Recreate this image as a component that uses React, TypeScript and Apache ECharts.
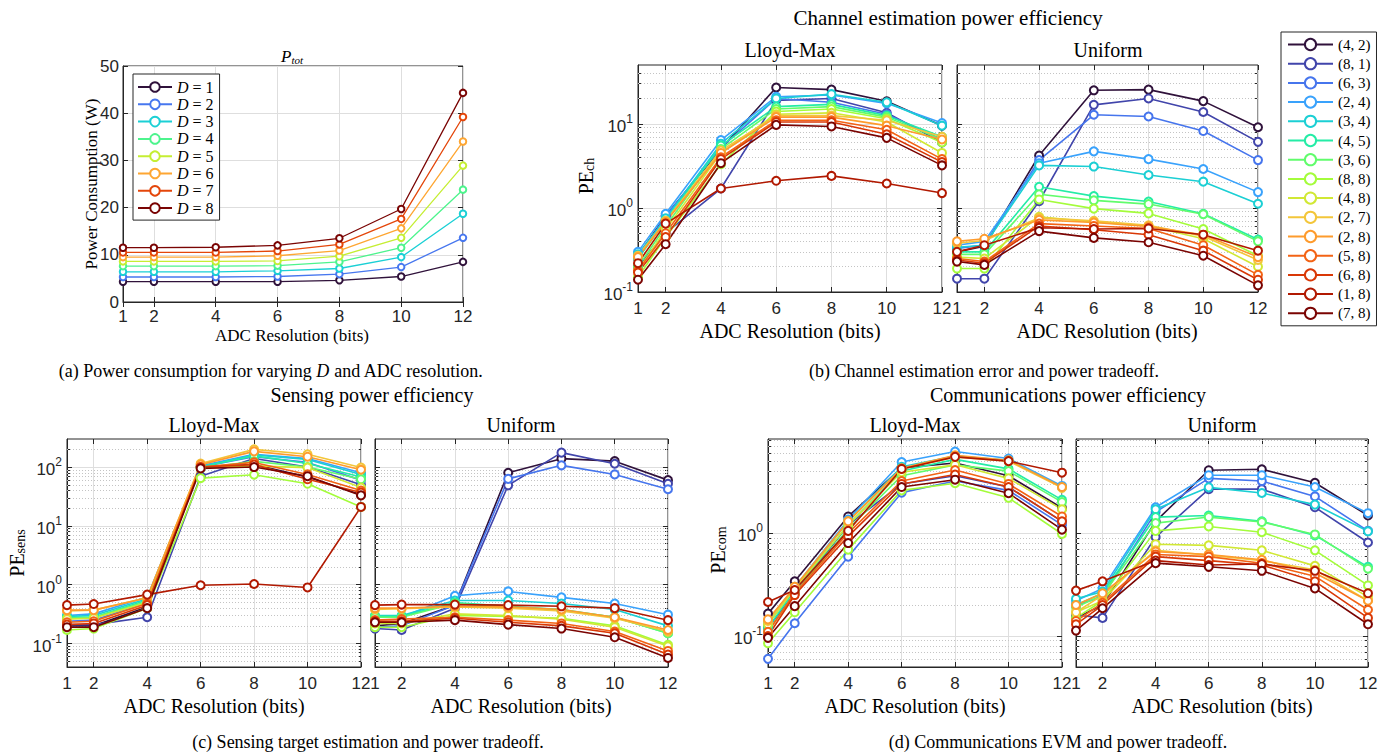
import React, { useEffect, useRef } from 'react';
import * as echarts from 'echarts';

// ---------------- data ----------------
const bits = [1, 2, 4, 6, 8, 10, 12];

const dNames = ['D = 1', 'D = 2', 'D = 3', 'D = 4', 'D = 5', 'D = 6', 'D = 7', 'D = 8'];
const dColors = ['#30123B', '#4777EF', '#1BD0D5', '#4DF48D', '#C5EE33', '#FEA632', '#E4460A', '#7A0403'];
const powerW = [
  [4.3, 4.3, 4.3, 4.3, 4.6, 5.4, 8.5],
  [5.3, 5.3, 5.3, 5.4, 5.9, 7.4, 13.6],
  [6.4, 6.4, 6.4, 6.6, 7.1, 9.5, 18.7],
  [7.6, 7.6, 7.6, 7.7, 8.5, 11.5, 23.8],
  [8.6, 8.6, 8.6, 8.7, 9.7, 13.6, 28.9],
  [9.5, 9.5, 9.5, 9.8, 10.9, 15.6, 34.0],
  [10.5, 10.5, 10.5, 10.8, 12.2, 17.6, 39.2],
  [11.5, 11.5, 11.6, 12.0, 13.5, 19.7, 44.3],
];

const pairNames = ['(4, 2)', '(8, 1)', '(6, 3)', '(2, 4)', '(3, 4)', '(4, 5)', '(3, 6)', '(8, 8)', '(4, 8)', '(2, 7)', '(2, 8)', '(5, 8)', '(6, 8)', '(1, 8)', '(7, 8)'];
const pairColors = ['#30123B', '#4145AB', '#4675ED', '#39A2FC', '#1BCFD4', '#24ECA6', '#61FC6C', '#A4FC3B', '#D1E834', '#F3C63A', '#FE9B2D', '#F36315', '#D93806', '#B11901', '#7A0402'];

// Channel estimation power efficiency
const chLloyd = [
  [0.27, 0.8, 5.0, 27, 25.5, 18.5, 9.5],
  [0.2, 0.5, 1.7, 19, 20, 13.5, 6],
  [0.25, 0.8, 5.2, 20, 18, 13, 6.5],
  [0.3, 0.85, 6.4, 21, 22, 17.5, 10.2],
  [0.28, 0.75, 5.8, 20, 22.5, 18, 9.5],
  [0.25, 0.7, 5.5, 16, 17, 12.5, 7],
  [0.2, 0.6, 5.0, 15, 16, 12, 6.5],
  [0.15, 0.45, 3.3, 14, 15, 11.5, 6],
  [0.18, 0.55, 4.5, 13, 13.5, 10.5, 4.5],
  [0.27, 0.7, 4.8, 12.5, 12.5, 11, 7],
  [0.26, 0.68, 4.5, 12, 12, 9.5, 6.5],
  [0.18, 0.5, 4.0, 11, 11, 8.5, 3.8],
  [0.17, 0.45, 3.8, 10.5, 10.5, 7.5, 3.5],
  [0.22, 0.65, 1.7, 2.1, 2.4, 1.95, 1.5],
  [0.14, 0.37, 3.4, 9.7, 9.3, 6.8, 3.2],
];
const chUniform = [
  [0.3, 0.35, 4.2, 25, 25.5, 18.6, 9.1],
  [0.144, 0.144, 1.2, 16.8, 20, 13.8, 6.1],
  [0.33, 0.36, 3.7, 12.8, 12.2, 8.2, 3.7],
  [0.36, 0.4, 3.4, 4.7, 3.8, 2.9, 1.54],
  [0.34, 0.36, 3.2, 3.1, 2.46, 2.05, 1.12],
  [0.3, 0.3, 1.78, 1.38, 1.19, 0.85, 0.42],
  [0.28, 0.28, 1.45, 1.23, 1.11, 0.84, 0.4],
  [0.19, 0.19, 1.26, 0.98, 0.86, 0.56, 0.27],
  [0.26, 0.25, 0.785, 0.68, 0.61, 0.43, 0.2],
  [0.38, 0.41, 0.76, 0.7, 0.62, 0.46, 0.24],
  [0.4, 0.43, 0.72, 0.67, 0.6, 0.48, 0.26],
  [0.25, 0.23, 0.65, 0.61, 0.57, 0.36, 0.16],
  [0.24, 0.22, 0.61, 0.55, 0.48, 0.31, 0.14],
  [0.3, 0.36, 0.58, 0.56, 0.57, 0.48, 0.31],
  [0.23, 0.21, 0.53, 0.44, 0.39, 0.27, 0.12],
];

// Sensing power efficiency
const sensLloyd = [
  [0.2, 0.2, 0.42, 100, 110, 68, 34],
  [0.21, 0.21, 0.28, 70, 140, 100, 50],
  [0.24, 0.25, 0.5, 100, 150, 120, 60],
  [0.3, 0.32, 0.62, 105, 165, 140, 80],
  [0.29, 0.3, 0.58, 100, 160, 135, 75],
  [0.28, 0.28, 0.55, 100, 155, 115, 68],
  [0.27, 0.28, 0.52, 95, 125, 100, 62],
  [0.17, 0.18, 0.4, 65, 74, 52, 21],
  [0.26, 0.27, 0.5, 100, 105, 98, 45],
  [0.36, 0.37, 0.6, 115, 200, 165, 98],
  [0.37, 0.37, 0.6, 110, 185, 150, 90],
  [0.23, 0.24, 0.48, 100, 120, 75, 40],
  [0.21, 0.22, 0.45, 100, 110, 62, 37],
  [0.45, 0.47, 0.68, 0.98, 1.03, 0.9, 21],
  [0.19, 0.19, 0.4, 95, 100, 70, 33],
];
const sensUniform = [
  [0.2, 0.22, 0.45, 80, 139, 126, 60],
  [0.18, 0.17, 0.4, 49, 176, 114, 52],
  [0.19, 0.2, 0.45, 63, 107, 75, 42],
  [0.28, 0.28, 0.65, 0.77, 0.61, 0.48, 0.31],
  [0.3, 0.3, 0.54, 0.54, 0.48, 0.38, 0.2],
  [0.29, 0.29, 0.5, 0.43, 0.38, 0.28, 0.15],
  [0.28, 0.28, 0.48, 0.42, 0.37, 0.28, 0.15],
  [0.19, 0.19, 0.3, 0.29, 0.27, 0.2, 0.095],
  [0.22, 0.22, 0.32, 0.3, 0.26, 0.19, 0.09],
  [0.38, 0.39, 0.42, 0.4, 0.36, 0.27, 0.16],
  [0.4, 0.4, 0.43, 0.42, 0.38, 0.28, 0.17],
  [0.25, 0.26, 0.28, 0.25, 0.22, 0.16, 0.075],
  [0.24, 0.24, 0.27, 0.23, 0.2, 0.15, 0.065],
  [0.45, 0.46, 0.46, 0.45, 0.43, 0.4, 0.25],
  [0.23, 0.23, 0.25, 0.21, 0.18, 0.128, 0.057],
];

// Communications power efficiency
const comLloyd = [
  [0.165, 0.34, 1.45, 4.3, 4.8, 3.6, 1.75],
  [0.12, 0.26, 1.2, 3.0, 3.6, 2.8, 1.3],
  [0.06, 0.133, 0.59, 2.47, 3.2, 2.6, 1.2],
  [0.14, 0.3, 1.35, 4.9, 6.2, 5.3, 2.87],
  [0.13, 0.29, 1.3, 4.4, 5.6, 5.1, 2.8],
  [0.12, 0.28, 1.2, 4.0, 5.2, 4.2, 2.1],
  [0.11, 0.26, 1.1, 3.6, 4.6, 4.0, 2.0],
  [0.085, 0.17, 0.69, 2.6, 3.05, 2.2, 0.98],
  [0.13, 0.29, 1.2, 3.9, 4.6, 3.4, 1.7],
  [0.14, 0.3, 1.3, 4.2, 5.5, 5.0, 2.75],
  [0.145, 0.3, 1.3, 4.25, 5.7, 5.1, 2.8],
  [0.11, 0.26, 1.0, 3.2, 4.1, 3.0, 1.45],
  [0.1, 0.25, 0.93, 3.0, 3.7, 2.8, 1.3],
  [0.214, 0.28, 1.05, 4.2, 5.5, 5.0, 3.86],
  [0.096, 0.195, 0.8, 2.8, 3.3, 2.44, 1.08],
];
const comUniform = [
  [0.15, 0.2, 1.3, 4.08, 4.17, 3.08, 1.48],
  [0.16, 0.15, 0.915, 2.67, 2.67, 1.78, 0.81],
  [0.2, 0.24, 1.6, 3.4, 3.2, 2.27, 1.05],
  [0.22, 0.29, 1.78, 3.65, 3.65, 2.8, 1.56],
  [0.23, 0.27, 1.7, 2.78, 2.45, 1.89, 1.04],
  [0.2, 0.26, 1.43, 1.48, 1.3, 0.95, 0.47],
  [0.19, 0.25, 1.25, 1.43, 1.28, 0.97, 0.45],
  [0.15, 0.22, 1.05, 1.16, 1.02, 0.68, 0.31],
  [0.17, 0.22, 0.78, 0.76, 0.68, 0.48, 0.24],
  [0.17, 0.25, 0.68, 0.61, 0.54, 0.44, 0.22],
  [0.2, 0.26, 0.66, 0.62, 0.55, 0.41, 0.22],
  [0.14, 0.21, 0.62, 0.59, 0.51, 0.38, 0.18],
  [0.13, 0.2, 0.59, 0.54, 0.49, 0.34, 0.15],
  [0.276, 0.34, 0.54, 0.49, 0.5, 0.43, 0.26],
  [0.113, 0.186, 0.51, 0.47, 0.43, 0.29, 0.13],
];

// log axis ranges, decade ticks and minor grid values
const chRange = [0.1, 50];
const sensRange = [0.04, 300];
const comRange = [0.05, 8.2];
const chDecades = [0.1, 1, 10];
const sensDecades = [0.1, 1, 10, 100];
const comDecades = [0.1, 1];
const chMinor = [0.2, 0.3, 0.4, 0.5, 0.6, 0.7, 0.8, 0.9, 2, 3, 4, 5, 6, 7, 8, 9, 20, 30, 40];
const sensMinor = [0.05, 0.06, 0.07, 0.08, 0.09, 0.2, 0.3, 0.4, 0.5, 0.6, 0.7, 0.8, 0.9, 2, 3, 4, 5, 6, 7, 8, 9, 20, 30, 40, 50, 60, 70, 80, 90, 200];
const comMinor = [0.06, 0.07, 0.08, 0.09, 0.2, 0.3, 0.4, 0.5, 0.6, 0.7, 0.8, 0.9, 2, 3, 4, 5, 6, 7, 8];

// ---------------- styling ----------------
const SERIF = "'Liberation Serif', 'Times New Roman', serif";
const SANS = "'Liberation Sans', Arial, Helvetica, sans-serif";
const AX = '#262626';
const GRID = '#dedede';
const MINOR = '#c4c4c4';

type Box = { left: number; top: number; width: number; height: number };
const boxes: Box[] = [
  { left: 123, top: 66, width: 340, height: 236 }, // a
  { left: 638, top: 65, width: 304, height: 227 }, // b LM
  { left: 957, top: 65, width: 301, height: 227 }, // b U
  { left: 67, top: 439, width: 294, height: 228 }, // c LM
  { left: 375, top: 439, width: 293, height: 228 }, // c U
  { left: 768, top: 439, width: 294, height: 228 }, // d LM
  { left: 1076, top: 439, width: 292, height: 228 }, // d U
];

function buildOption() {
  const grid = boxes.map((b) => ({
    left: b.left, top: b.top, width: b.width, height: b.height,
    show: true, borderColor: AX, borderWidth: 1, backgroundColor: 'transparent',
  }));

  const tickStyle = { show: true, inside: true, length: 5, lineStyle: { color: AX, width: 1 } };

  const xAxis: any[] = boxes.map((_, i) => ({
    type: 'value', gridIndex: i, min: 1, max: 12, position: 'bottom',
    axisLine: { show: true, lineStyle: { color: AX, width: 1 } },
    axisTick: { ...tickStyle, customValues: bits },
    axisLabel: {
      show: true, customValues: bits, color: AX, fontFamily: SANS,
      fontSize: 17, margin: i === 0 ? 6 : 8,
    },
    splitLine: { show: true, lineStyle: { color: GRID, width: 1 } },
  }));
  // mirrored ticks on top edge (box on)
  boxes.forEach((_, i) => xAxis.push({
    type: 'value', gridIndex: i, min: 1, max: 12, position: 'top',
    axisLine: { show: false },
    axisTick: { ...tickStyle, customValues: bits },
    axisLabel: { show: false },
    splitLine: { show: false },
  }));

  const logLabel = (v: number) => {
    const e = Math.round(Math.log10(v));
    return `{b|10}{s|${e}}`;
  };
  const logRich = {
    b: { fontSize: 17, fontFamily: SANS, color: AX, lineHeight: 22, verticalAlign: 'bottom' },
    s: { fontSize: 12, fontFamily: SANS, color: AX, lineHeight: 12, verticalAlign: 'top' },
  };
  const logAxis = (gi: number, range: number[], ticks: number[], labels: boolean, pos: string, main: boolean, len = 5) => ({
    type: 'log', gridIndex: gi, min: range[0], max: range[1], logBase: 10, position: pos,
    axisLine: { show: main, lineStyle: { color: AX, width: 1 } },
    axisTick: { ...tickStyle, length: len, customValues: ticks },
    axisLabel: {
      show: labels, customValues: ticks, formatter: logLabel, rich: logRich, margin: 5,
    },
    splitLine: { show: main, lineStyle: { color: GRID, width: 1 } },
  });

  const linY = (pos: string) => ({
    type: 'value', gridIndex: 0, min: 0, max: 50, interval: 10, position: pos,
    axisLine: { show: pos === 'left', lineStyle: { color: AX, width: 1 } },
    axisTick: tickStyle,
    axisLabel: { show: pos === 'left', color: AX, fontFamily: SANS, fontSize: 17, margin: 4 },
    splitLine: { show: pos === 'left', lineStyle: { color: GRID, width: 1 } },
  });

  const logSpecs: [number, number[], number[], number[], boolean][] = [
    [1, chRange, chDecades, chMinor, true],
    [2, chRange, chDecades, chMinor, false],
    [3, sensRange, sensDecades, sensMinor, true],
    [4, sensRange, sensDecades, sensMinor, false],
    [5, comRange, comDecades, comMinor, true],
    [6, comRange, comDecades, comMinor, false],
  ];

  const yAxis: any[] = [linY('left')];
  logSpecs.forEach(([gi, r, dec, , lab]) => yAxis.push(logAxis(gi, r, dec, lab, 'left', true)));
  // mirrored / minor ticks
  yAxis.push(linY('right'));
  logSpecs.forEach(([gi, r, dec, mn]) => {
    yAxis.push(logAxis(gi, r, dec, false, 'right', false));
    yAxis.push(logAxis(gi, r, mn, false, 'left', false, 3));
    yAxis.push(logAxis(gi, r, mn, false, 'right', false, 3));
  });

  const series: any[] = [];

  // minor dotted grid lines
  const minorFor = [null, chMinor, chMinor, sensMinor, sensMinor, comMinor, comMinor];
  minorFor.forEach((m, gi) => {
    if (!m) return;
    series.push({
      type: 'line', name: `minor-${gi}`, xAxisIndex: gi, yAxisIndex: gi, data: [],
      silent: true, z: 1,
      markLine: {
        silent: true, z: 1, symbol: ['none', 'none'], animation: false,
        label: { show: false },
        lineStyle: { type: [1, 2], color: MINOR, width: 1 },
        emphasis: { disabled: true },
        data: m.map((v) => ({ yAxis: v })),
      },
    });
  });

  const mk = (name: string, color: string, vals: number[], gi: number, size: number, lw: number) => ({
    type: 'line', name, xAxisIndex: gi, yAxisIndex: gi,
    data: bits.map((b, k) => [b, vals[k]]),
    symbol: 'emptyCircle', symbolSize: size, showSymbol: true,
    lineStyle: { color, width: lw },
    itemStyle: { color, borderColor: color, borderWidth: lw },
    emphasis: { disabled: true },
    z: 3,
  });

  powerW.forEach((vals, i) => series.push(mk(dNames[i], dColors[i], vals, 0, 6.5, 1.3)));
  const panels: [number[][], number][] = [
    [chLloyd, 1], [chUniform, 2], [sensLloyd, 3], [sensUniform, 4], [comLloyd, 5], [comUniform, 6],
  ];
  panels.forEach(([tbl, gi]) => {
    tbl.forEach((vals, i) => series.push(mk(pairNames[i], pairColors[i], vals, gi, 8, 1.6)));
  });

  const legend = [
    {
      data: dNames, orient: 'vertical', left: 133, top: 74,
      itemWidth: 34, itemHeight: 12, itemGap: 1.3,
      padding: [5, 6, 4, 4], backgroundColor: '#fff', borderColor: AX, borderWidth: 1,
      selectedMode: false,
      formatter: (n: string) => `{i|D} = ${n.split('=')[1].trim()}`,
      textStyle: {
        fontFamily: SERIF, fontSize: 16, color: '#000',
        rich: { i: { fontFamily: SERIF, fontSize: 16, fontStyle: 'italic', color: '#000' } },
      },
    },
    {
      data: pairNames, orient: 'vertical', left: 1281, top: 32,
      itemWidth: 45, itemHeight: 14, itemGap: 4.2,
      padding: [5, 6, 5, 6], backgroundColor: '#fff', borderColor: AX, borderWidth: 1,
      selectedMode: false,
      textStyle: { fontFamily: SERIF, fontSize: 15, color: '#000' },
    },
  ];

  const txt = (text: string, x: number, y: number, size: number, extra: any = {}) => ({
    type: 'text', x, y, silent: true,
    style: { text, fontSize: size, fontFamily: SERIF, fill: '#000', align: 'center', verticalAlign: 'middle', ...extra },
  });
  const vtxt = (text: string, x: number, y: number, size: number, rich?: any) => ({
    type: 'text', x, y, rotation: Math.PI / 2, silent: true,
    style: { text, fontSize: size, fontFamily: SERIF, fill: '#000', align: 'center', verticalAlign: 'middle', rich },
  });
  const subRich = (size: number) => ({
    b: { fontSize: size, fontFamily: SERIF, fill: '#000', lineHeight: size + 4, verticalAlign: 'bottom' },
    s: { fontSize: Math.round(size * 0.68), fontFamily: SERIF, fill: '#000', lineHeight: size * 0.68, verticalAlign: 'bottom' },
  });

  const graphic = [
    // panel (a)
    {
      type: 'text', x: 292, y: 55, silent: true,
      style: {
        text: '{p|P}{s|tot}', align: 'center', verticalAlign: 'middle',
        rich: {
          p: { fontSize: 17, fontFamily: SERIF, fontStyle: 'italic', fill: '#000', lineHeight: 20, verticalAlign: 'bottom' },
          s: { fontSize: 11, fontFamily: SERIF, fontStyle: 'italic', fill: '#000', lineHeight: 11, verticalAlign: 'bottom' },
        },
      },
    },
    vtxt('Power Consumption (W)', 91, 184, 17),
    txt('ADC Resolution (bits)', 292, 335, 17),
    {
      type: 'text', x: 271, y: 371, silent: true,
      style: {
        text: '(a) Power consumption for varying {i|D} and ADC resolution.',
        fontSize: 18, fontFamily: SERIF, fill: '#000', align: 'center', verticalAlign: 'middle',
        rich: { i: { fontSize: 18, fontFamily: SERIF, fontStyle: 'italic', fill: '#000' } },
      },
    },
    // panel (b)
    txt('Channel estimation power efficiency', 948, 18, 21),
    txt('Lloyd-Max', 790, 50, 20),
    txt('Uniform', 1108, 50, 20),
    vtxt('{b|PE}{s|ch}', 584, 176, 20, subRich(20)),
    txt('ADC Resolution (bits)', 790, 331, 20),
    txt('ADC Resolution (bits)', 1107, 331, 20),
    txt('(b) Channel estimation error and power tradeoff.', 984, 371, 18),
    // panel (c)
    txt('Sensing power efficiency', 372, 395, 20),
    txt('Lloyd-Max', 214, 425, 20),
    txt('Uniform', 521, 425, 20),
    vtxt('{b|PE}{s|sens}', 15, 553, 20, subRich(20)),
    txt('ADC Resolution (bits)', 214, 706, 20),
    txt('ADC Resolution (bits)', 521, 706, 20),
    txt('(c) Sensing target estimation and power tradeoff.', 368, 742, 18),
    // panel (d)
    txt('Communications power efficiency', 1068, 395, 20),
    txt('Lloyd-Max', 915, 425, 20),
    txt('Uniform', 1222, 425, 20),
    vtxt('{b|PE}{s|com}', 716, 550, 20, subRich(20)),
    txt('ADC Resolution (bits)', 915, 706, 20),
    txt('ADC Resolution (bits)', 1222, 706, 20),
    txt('(d) Communications EVM and power tradeoff.', 1058, 742, 18),
  ];

  return {
    animation: false,
    backgroundColor: '#ffffff',
    grid, xAxis, yAxis, series, legend, graphic,
  };
}

export default function App() {
  const ref = useRef<HTMLDivElement>(null);
  useEffect(() => {
    if (!ref.current) return;
    const chart = echarts.init(ref.current, undefined, { renderer: 'svg' });
    chart.setOption(buildOption() as any);
    return () => chart.dispose();
  }, []);
  return (
    <div
      ref={ref}
      style={{ position: 'absolute', left: 0, top: 0, width: 1393, height: 754, background: '#fff' }}
    />
  );
}
